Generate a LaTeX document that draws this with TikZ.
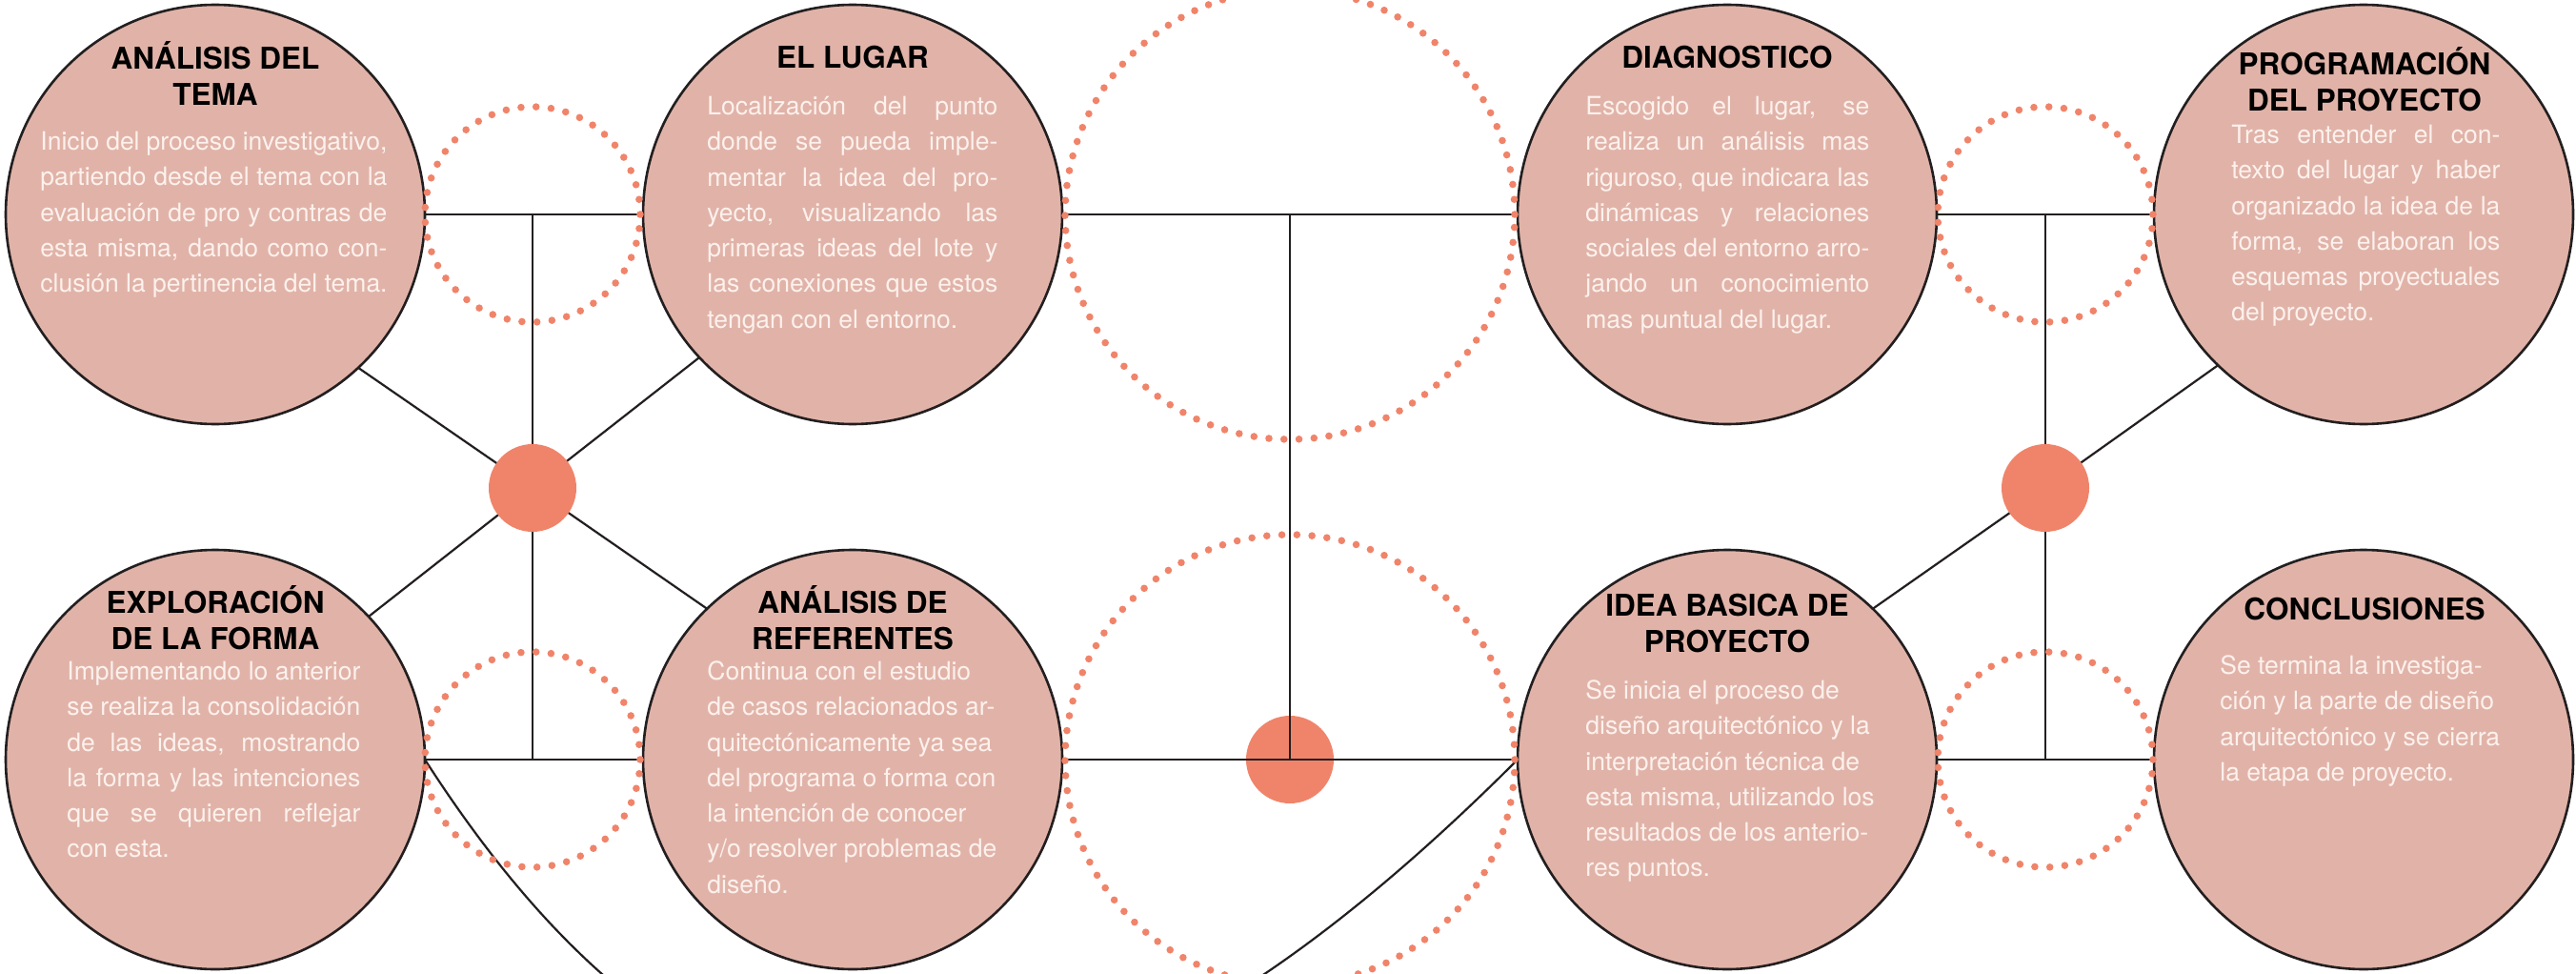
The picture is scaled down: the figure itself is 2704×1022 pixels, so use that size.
\documentclass[tikz,border=0pt]{standalone}
\usepackage{fontspec}
\setmainfont{TeX Gyre Heros}
\definecolor{pinkfill}{RGB}{225,179,168}
\definecolor{salmon}{RGB}{240,132,106}
\definecolor{ink}{RGB}{35,31,32}
\definecolor{paletext}{RGB}{252,241,237}
\newcommand\mytitlestrut{\rule{0pt}{16pt}}
\newcommand\mybodystrut{\rule{0pt}{14pt}}
\newcommand\justline[2]{\makebox[#1][s]{#2}}
\begin{document}
\begin{tikzpicture}[x=0.5pt,y=-0.5pt,
  stage/.style={circle, draw=ink, line width=1.3pt, fill=pinkfill, minimum size=220pt, inner sep=0pt, outer sep=0pt},
  hub/.style={circle, fill=salmon, minimum size=46pt, inner sep=0pt, outer sep=0pt},
  link/.style={draw=ink, line width=1.1pt},
  ring/.style={draw=salmon, line width=3.8pt, line cap=round, dash pattern=on 0pt off 7.9pt},
  title/.style={font=\bfseries\fontsize{15.75pt}{19pt}\selectfont, text=black, align=center, inner sep=0pt, anchor=north},
  body/.style={font=\fontsize{13.25pt}{18.65pt}\selectfont, text=paletext, align=left, inner sep=0pt, anchor=north west},
]
\useasboundingbox (0,0) rectangle (2704,1022);
\clip (0,0) rectangle (2704,1022);

% stage circles
\node[stage] (c1) at (226,225) {};
\node[stage] (c2) at (895,225) {};
\node[stage] (c3) at (1813,225) {};
\node[stage] (c4) at (2481,225) {};
\node[stage] (c5) at (226,797) {};
\node[stage] (c6) at (895,797) {};
\node[stage] (c7) at (1813,797) {};
\node[stage] (c8) at (2481,797) {};

% ring centres
\coordinate (rTL) at (559,225);
\coordinate (rBL) at (559,797);
\coordinate (rTC) at (1354,225);
\coordinate (rBC) at (1354,797);
\coordinate (rTR) at (2147,225);
\coordinate (rBR) at (2147,797);

% hubs
\node[hub] (hL) at (559,512) {};
\node[hub] (hR) at (2147,512) {};
\node[hub] (hC) at (1354,797) {};

% connectors
\draw[link] (c1.east) -- (c2.west);
\draw[link] (c2.east) -- (c3.west);
\draw[link] (c3.east) -- (c4.west);
\draw[link] (c5.east) -- (c6.west);
\draw[link] (c6.east) -- (c7.west);
\draw[link] (c7.east) -- (c8.west);
\draw[link] (rTL) -- (hL);
\draw[link] (hL) -- (rBL);
\draw[link] (rTR) -- (hR);
\draw[link] (hR) -- (rBR);
\draw[link] (rTC) -- (hC.center);
\draw[link] (c1.-47) -- (hL);
\draw[link] (c2.-137) -- (hL);
\draw[link] (c5.43) -- (hL);
\draw[link] (c6.134) -- (hL);
\draw[link] (c4.226) -- (hR);
\draw[link] (c7.46) -- (hR);
\draw[link] (c5.east) .. controls (770,1301) and (1138,1252) .. (c7.west);

% dotted rings
\draw[ring] (rTL) circle[radius=56.5pt];
\draw[ring] (rBL) circle[radius=56.5pt];
\draw[ring] (rTR) circle[radius=56.5pt];
\draw[ring] (rBR) circle[radius=56.5pt];
\draw[ring] (rTC) circle[radius=118pt];
\draw[ring] (rBC) circle[radius=118pt];

% titles
\node[title] (t1) at (226,40) {\mytitlestrut ANÁLISIS DEL\\TEMA};
\node[title] (t2) at (895,39) {\mytitlestrut EL LUGAR};
\node[title] (t3) at (1813,39) {\mytitlestrut DIAGNOSTICO};
\node[title] (t4) at (2482,46) {\mytitlestrut PROGRAMACIÓN\\DEL PROYECTO};
\node[title] (t5) at (226,611) {\mytitlestrut EXPLORACIÓN\\DE LA FORMA};
\node[title] (t6) at (895,611) {\mytitlestrut ANÁLISIS DE\\REFERENTES};
\node[title] (t7) at (1813,614) {\mytitlestrut IDEA BASICA DE\\PROYECTO};
\node[title] (t8) at (2482,618) {\mytitlestrut CONCLUSIONES};

% bodies
\node[body] (b1) at (42,129) {\mybodystrut\justline{182pt}{Inicio del proceso investigativo,}\\
\justline{182pt}{partiendo desde el tema con la}\\
\justline{182pt}{evaluación de pro y contras de}\\
\justline{182pt}{esta misma, dando como con-}\\
clusión la pertinencia del tema.};

\node[body] (b2) at (742,92) {\mybodystrut\justline{152.5pt}{Localización del punto}\\
\justline{152.5pt}{donde se pueda imple-}\\
\justline{152.5pt}{mentar la idea del pro-}\\
\justline{152.5pt}{yecto, visualizando las}\\
\justline{152.5pt}{primeras ideas del lote y}\\
\justline{152.5pt}{las conexiones que estos}\\
tengan con el entorno.};

\node[body] (b3) at (1664,92) {\mybodystrut\justline{149pt}{Escogido el lugar, se}\\
\justline{149pt}{realiza un análisis mas}\\
\justline{149pt}{riguroso, que indicara las}\\
\justline{149pt}{dinámicas y relaciones}\\
\justline{149pt}{sociales del entorno arro-}\\
\justline{149pt}{jando un conocimiento}\\
mas puntual del lugar.};

\node[body] (b4) at (2342,122) {\mybodystrut\justline{141pt}{Tras entender el con-}\\
\justline{141pt}{texto del lugar y haber}\\
\justline{141pt}{organizado la idea de la}\\
\justline{141pt}{forma, se elaboran los}\\
\justline{141pt}{esquemas proyectuales}\\
del proyecto.};

\node[body] (b5) at (70,685) {\mybodystrut\justline{154pt}{Implementando lo anterior}\\
\justline{154pt}{se realiza la consolidación}\\
\justline{154pt}{de las ideas, mostrando}\\
\justline{154pt}{la forma y las intenciones}\\
\justline{154pt}{que se quieren reflejar}\\
con esta.};

\node[body] (b6) at (742,685) {\mybodystrut Continua con el estudio\\
de casos relacionados ar-\\
quitectónicamente ya sea\\
del programa o forma con\\
la intención de conocer\\
y/o resolver problemas de\\
diseño.};

\node[body] (b7) at (1664,705) {\mybodystrut Se inicia el proceso de\\
diseño arquitectónico y la\\
interpretación técnica de\\
esta misma, utilizando los\\
resultados de los anterio-\\
res puntos.};

\node[body] (b8) at (2330,679) {\mybodystrut Se termina la investiga-\\
ción y la parte de diseño\\
arquitectónico y se cierra\\
la etapa de proyecto.};
\end{tikzpicture}
\end{document}
